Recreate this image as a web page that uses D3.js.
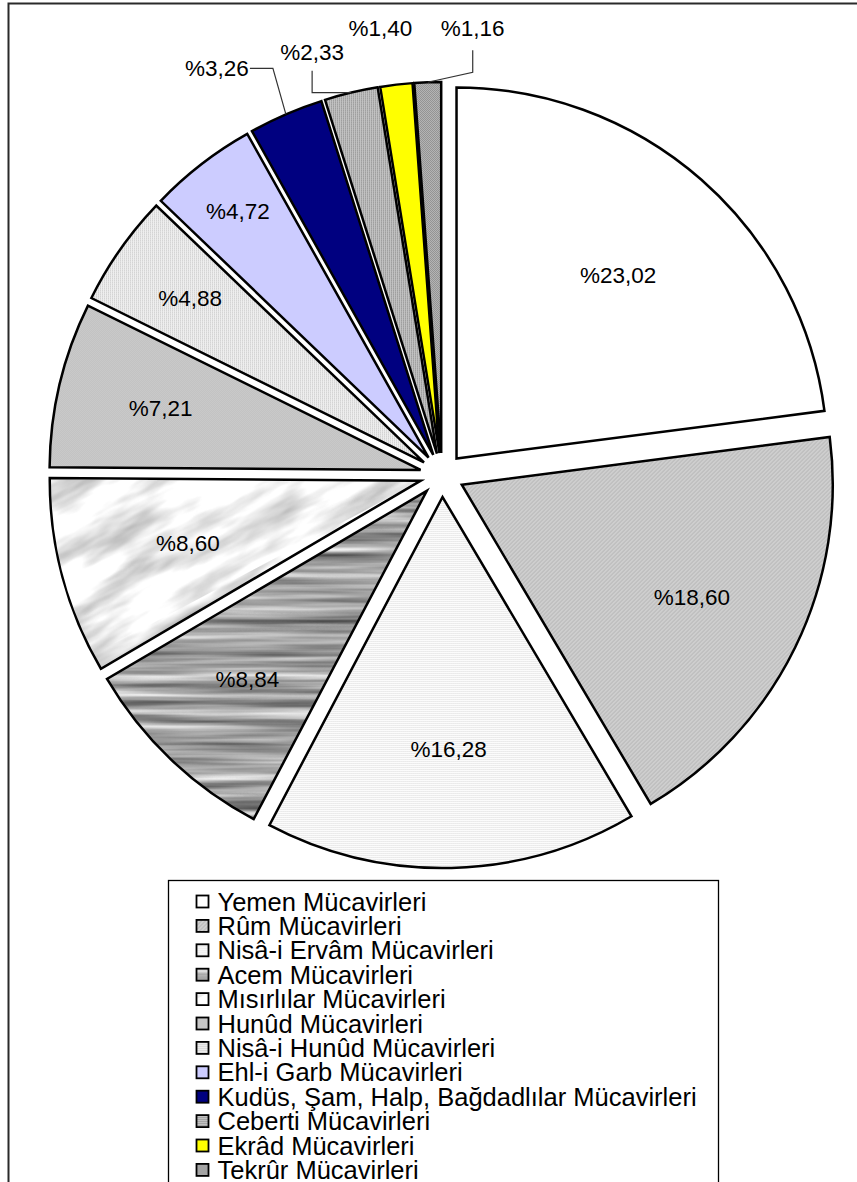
<!DOCTYPE html>
<html>
<head>
<meta charset="utf-8">
<script src="https://cdn.jsdelivr.net/npm/d3@7"></script>
<style>
body { margin: 0; background: #fff; }
svg { display: block; }
text { font-family: Arial, "Liberation Sans", sans-serif; fill: #000; }
</style>
</head>
<body>
<svg class="chart"></svg>
<script>

//
// data
//

var categories = [
    "Yemen Mücavirleri",
    "Rûm Mücavirleri",
    "Nisâ-i Ervâm Mücavirleri",
    "Acem Mücavirleri",
    "Mısırlılar Mücavirleri",
    "Hunûd Mücavirleri",
    "Nisâ-i Hunûd Mücavirleri",
    "Ehl-i Garb Mücavirleri",
    "Kudüs, Şam, Halp, Bağdadlılar Mücavirleri",
    "Ceberti Mücavirleri",
    "Ekrâd Mücavirleri",
    "Tekrûr Mücavirleri"
];

var shares = [23.02, 18.60, 16.28, 8.84, 8.60, 7.21, 4.88, 4.72, 3.26, 2.33, 1.40, 1.16];

var shareLabels = ["%23,02", "%18,60", "%16,28", "%8,84", "%8,60", "%7,21",
                   "%4,88", "%4,72", "%3,26", "%2,33", "%1,40", "%1,16"];

// fill for each slice (pattern ids defined below)
var fills = ["#ffffff", "url(#rum)", "url(#ervam)", "url(#wood)", "url(#marble)", "url(#hunud)",
             "url(#nhunud)", "#ccccff", "#000080", "url(#ceberti)", "#ffff00", "url(#tekrur)"];

// label placement: inside at a fraction of the radius, or outside with offset from arc middle
var labelLayout = [
    {r: 0.66}, {r: 0.69}, {r: 0.68}, {r: 0.70}, {r: 0.65}, {r: 0.72}, {r: 0.77}, {r: 0.84},
    {dx: -69, dy: -46, leader: "h"},
    {dx: -39, dy: -41, leader: "v"},
    {dx: -16, dy: -57},
    {dx: 45, dy: -54, leader: "v2"}
];

//
// scene
//

var width = 857,
    height = 1182;

var cx = 442, cy = 475,
    radius = 371,
    explode = 22;

var svg = d3.select(".chart")
    .attr("width", width)
    .attr("height", height);

svg.append("rect")
    .attr("width", width)
    .attr("height", height)
    .attr("fill", "#fff");

// outer frame (runs off the right and bottom)
svg.append("rect")
    .attr("x", 8.5)
    .attr("y", 3.5)
    .attr("width", 900)
    .attr("height", 1250)
    .attr("fill", "none")
    .attr("stroke", "#2a2a2a")
    .attr("stroke-width", 2);

//
// patterns
//

var defs = svg.append("defs");

function smallPattern(id, size, bg, dots, dotColor) {
    var p = defs.append("pattern")
        .attr("id", id)
        .attr("width", size)
        .attr("height", size)
        .attr("patternUnits", "userSpaceOnUse");
    p.append("rect").attr("width", size).attr("height", size).attr("fill", bg);
    dots.forEach(function (d) {
        p.append("rect")
            .attr("x", d[0]).attr("y", d[1])
            .attr("width", 1).attr("height", 1)
            .attr("fill", dotColor);
    });
    return p;
}

var rum = defs.append("pattern")
    .attr("id", "rum")
    .attr("width", 4)
    .attr("height", 4)
    .attr("patternUnits", "userSpaceOnUse");
rum.append("rect").attr("width", 4).attr("height", 4).attr("fill", "#d4d4d4");
rum.append("path")
    .attr("d", "M-1,1 L1,-1 M0,4 L4,0 M3,5 L5,3")
    .attr("stroke", "#b4b4b4")
    .attr("stroke-width", 1.2);

smallPattern("ervam", 2, "#fbfbfb", [[0, 0]], "#dcdcdc");
smallPattern("hunud", 2, "#d8d8d8", [[0, 0], [1, 1]], "#b4b4b4");
smallPattern("nhunud", 2, "#eeeeee", [[0, 0]], "#c4c4c4");
smallPattern("ceberti", 2, "#c4c4c4", [[0, 0]], "#808080");
smallPattern("tekrur", 2, "#c0c0c0", [[0, 0], [1, 1]], "#888888");

function texture(id, freq, octaves, seed, gain, offset, turn) {
    var f = defs.append("filter")
        .attr("id", id + "F")
        .attr("x", 0).attr("y", 0)
        .attr("width", 1).attr("height", 1)
        .attr("color-interpolation-filters", "sRGB");
    f.append("feTurbulence")
        .attr("type", "fractalNoise")
        .attr("baseFrequency", freq)
        .attr("numOctaves", octaves)
        .attr("seed", seed);
    f.append("feColorMatrix")
        .attr("type", "matrix")
        .attr("values", [gain, 0, 0, 0, offset,
                         gain, 0, 0, 0, offset,
                         gain, 0, 0, 0, offset,
                         0, 0, 0, 0, 1].join(" "));
    var p = defs.append("pattern")
        .attr("id", id)
        .attr("width", 2000)
        .attr("height", 2000)
        .attr("patternUnits", "userSpaceOnUse")
        .attr("patternTransform", "rotate(" + turn + ")");
    p.append("rect")
        .attr("width", 2000)
        .attr("height", 2000)
        .attr("filter", "url(#" + id + "F)");
}

texture("wood", "0.004 0.12", 3, 7, 0.95, 0.16, 0);
texture("marble", "0.009 0.035", 4, 11, 0.8, 0.56, -28);

//
// pie
//

var pie = d3.pie().sort(null).value(function (d) { return d; });
var arc = d3.arc().innerRadius(0).outerRadius(radius);

var slices = pie(shares).map(function (s, i) {
    var mid = (s.startAngle + s.endAngle) / 2;
    s.dir = [Math.sin(mid), -Math.cos(mid)];
    s.apex = [cx + explode * s.dir[0], cy + explode * s.dir[1]];
    s.arcMid = [s.apex[0] + radius * s.dir[0], s.apex[1] + radius * s.dir[1]];
    return s;
});

svg.append("g").selectAll("path")
    .data(slices)
    .enter().append("path")
    .attr("transform", function (d) { return "translate(" + d.apex[0] + "," + d.apex[1] + ")"; })
    .attr("d", arc)
    .attr("fill", function (d, i) { return fills[i]; })
    .attr("stroke", "#000")
    .attr("stroke-width", 2.5)
    .attr("stroke-linejoin", "miter");

//
// labels
//

var labelFont = 22.5;

slices.forEach(function (s, i) {
    var lay = labelLayout[i];
    var tx, ty;
    if (lay.r !== undefined) {
        tx = s.apex[0] + lay.r * radius * s.dir[0];
        ty = s.apex[1] + lay.r * radius * s.dir[1];
    } else {
        tx = s.arcMid[0] + lay.dx;
        ty = s.arcMid[1] + lay.dy;
        var pts = null;
        if (lay.leader === "h") {
            pts = [[tx + 33, ty], [tx + 56, ty], s.arcMid];
        } else if (lay.leader === "v") {
            pts = [[tx, ty + 19], [tx, s.arcMid[1]], s.arcMid];
        } else if (lay.leader === "v2") {
            pts = [[tx, ty + 22], [tx, ty + 44], s.arcMid];
        }
        if (pts) {
            svg.append("path")
                .attr("d", d3.line()(pts))
                .attr("fill", "none")
                .attr("stroke", "#333")
                .attr("stroke-width", 1.2);
        }
    }
    svg.append("text")
        .attr("x", tx)
        .attr("y", ty)
        .attr("dy", "0.36em")
        .attr("text-anchor", "middle")
        .attr("font-size", labelFont)
        .text(shareLabels[i]);
});

//
// legend
//

var legendX = 168.5, legendY = 880.5,
    rowStep = 24.4, legendFont = 25.5;

svg.append("rect")
    .attr("x", legendX)
    .attr("y", legendY)
    .attr("width", 550)
    .attr("height", 400)
    .attr("fill", "#fff")
    .attr("stroke", "#000")
    .attr("stroke-width", 1.3);

var rows = svg.append("g").selectAll("g")
    .data(categories)
    .enter().append("g")
    .attr("transform", function (d, i) {
        return "translate(" + (legendX + 28) + "," + (legendY + 21 + i * rowStep) + ")";
    });

rows.append("rect")
    .attr("x", 0)
    .attr("y", -6)
    .attr("width", 12)
    .attr("height", 12)
    .attr("fill", function (d, i) { return fills[i]; })
    .attr("stroke", "#000")
    .attr("stroke-width", 1.8);

rows.append("text")
    .attr("x", 21)
    .attr("y", 0)
    .attr("dy", "0.36em")
    .attr("font-size", legendFont)
    .text(function (d) { return d; });

</script>
</body>
</html>
